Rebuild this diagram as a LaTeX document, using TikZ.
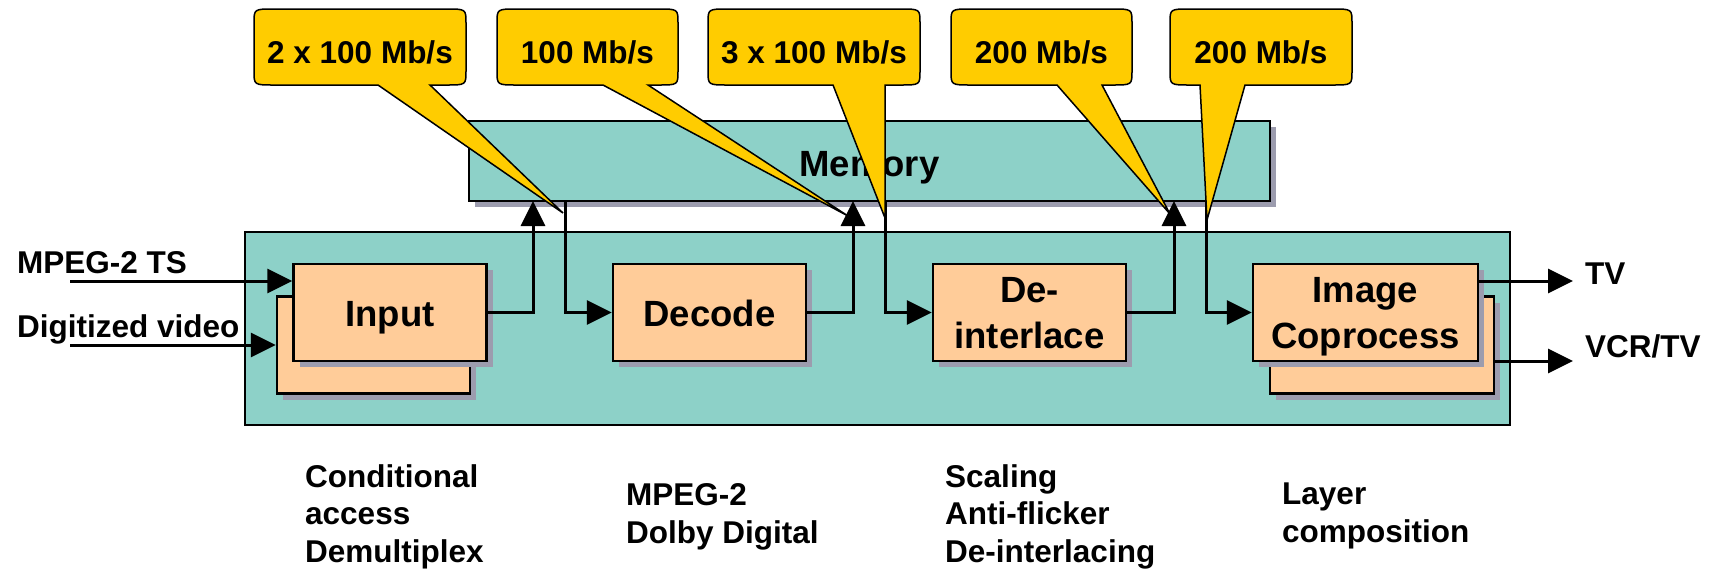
\documentclass[tikz,border=0pt]{standalone}
\usepackage{fontspec}
\setmainfont{Liberation Sans}
\usetikzlibrary{arrows.meta,shadows}

\definecolor{chipteal}{HTML}{8DD1C8}
\definecolor{blockpeach}{HTML}{FFCC99}
\definecolor{rategold}{HTML}{FFCC00}
\definecolor{shadegray}{HTML}{9C9CAE}

% rate balloon: name, left, right, pointer base left, pointer base right, tip x, tip y, text
\newcommand\ratecallout[8]{%
  \draw[callout] ({#2+20},9) -- ({#3-20},9) .. controls (#3,9) .. (#3,23)
    -- (#3,71) .. controls (#3,85) .. ({#3-20},85) -- (#5,85) -- (#6,#7) -- (#4,85)
    -- ({#2+20},85) .. controls (#2,85) .. (#2,71) -- (#2,23)
    .. controls (#2,9) .. ({#2+20},9) -- cycle;
  \node[ratetext] (#1) at ({(#2+#3)/2},63) {#8};
}

\begin{document}
\begin{tikzpicture}[x=1pt,y=-1pt,
  boxshade/.style={drop shadow={shadow xshift=6pt,shadow yshift=-6pt,fill=shadegray,opacity=1}},
  block/.style={draw=black,line width=2.5pt,fill=blockpeach,minimum width=193pt,
    minimum height=97pt,inner sep=0pt,align=center,boxshade,
    text height=27pt,text depth=0pt,
    font=\fontsize{36.5}{46}\selectfont\bfseries},
  twoline/.style={text height=72pt,text depth=0pt},
  wideblock/.style={block,minimum width=225pt},
  chip/.style={draw=black,line width=2pt,fill=chipteal,inner sep=0pt},
  memstyle/.style={draw=black,line width=2.5pt,fill=chipteal,inner sep=0pt,boxshade,
    minimum width=801pt,minimum height=80pt,text height=30pt,text depth=0pt,
    font=\fontsize{36.5}{44}\selectfont\bfseries},
  flow/.style={line width=3pt,-{Triangle[length=25pt,width=24pt]}},
  callout/.style={draw=black,line width=1.5pt,fill=rategold,line join=miter},
  ratetext/.style={anchor=base,inner sep=0pt,font=\fontsize{31.5}{38}\selectfont\bfseries},
  sidetext/.style={anchor=base west,inner sep=0pt,font=\fontsize{31.5}{38}\selectfont\bfseries},
  notes/.style={anchor=base west,inner sep=0pt,align=left,
    font=\fontsize{31.5}{37.5}\selectfont\bfseries}
]
\useasboundingbox (0,0) rectangle (1711,571);
\fill[white] (0,0) rectangle (1711,571);

% chip outline and shared memory
\node[chip,minimum width=1265pt,minimum height=193pt] (soc) at (877.5,328.5) {};
\node[memstyle] (mem) at (869.5,161) {Memory};

% processing blocks (stacked ones have a second copy behind)
\node[block] (inB) at (373.5,345) {};
\node[block] (inF) at (390,312.5) {Input};
\node[block] (dec) at (709.5,312.5) {Decode};
\node[block,twoline] (dei) at (1029.5,312.5) {De-\\interlace};
\node[wideblock,minimum width=224pt] (imgB) at (1382,345) {};
\node[wideblock,twoline] (imgF) at (1365.5,312.5) {Image\\Coprocess};

% memory ports
\coordinate (wr1) at (533,201);
\coordinate (rd1) at (565,201);
\coordinate (wr2) at (853,201);
\coordinate (rd2) at (885,201);
\coordinate (wr3) at (1174,201);
\coordinate (rd3) at (1206,201);

% inputs and outputs
\coordinate (tsin) at (70,281);
\coordinate (dvin) at (70,345);
\coordinate (tvout) at (1573,281);
\coordinate (vcrout) at (1573,361);

\draw[flow] (tsin) -- (tsin -| inF.west);
\draw[flow] (dvin) -- (inB.west);
\draw[flow] (inF.east) -| (wr1);
\draw[flow] (rd1) |- (dec.west);
\draw[flow] (dec.east) -| (wr2);
\draw[flow] (rd2) |- (dei.west);
\draw[flow] (dei.east) -| (wr3);
\draw[flow] (rd3) |- (imgF.west);
\draw[flow] (tvout -| imgF.east) -- (tvout);
\draw[flow] (vcrout -| imgB.east) -- (vcrout);

% bandwidth balloons
\ratecallout{bw1}{254}{466}{378}{430}{563}{213}{2 x 100 Mb/s}
\ratecallout{bw2}{497}{678}{603}{648}{848}{216}{100 Mb/s}
\ratecallout{bw3}{708}{920}{833}{885}{885}{218}{3 x 100 Mb/s}
\ratecallout{bw4}{951}{1132}{1057}{1102}{1170}{214}{200 Mb/s}
\ratecallout{bw5}{1170}{1352}{1200}{1245}{1207}{220}{200 Mb/s}

% signal names
\node[sidetext] (tsname) at (17,273) {MPEG-2 TS};
\node[sidetext] (dvname) at (17,337) {Digitized video};
\node[sidetext] (tvname) at (1585,284) {TV};
\node[sidetext] (vcrname) at (1585,357) {VCR/TV};

% functions of each stage (anchored on the last line's baseline)
\node[notes] (inNote) at (305,562) {Conditional\\access\\Demultiplex};
\node[notes] (decNote) at (626,543) {MPEG-2\\Dolby Digital};
\node[notes] (deiNote) at (945,562) {Scaling\\Anti-flicker\\De-interlacing};
\node[notes] (imgNote) at (1282,542) {Layer\\composition};
\end{tikzpicture}
\end{document}
